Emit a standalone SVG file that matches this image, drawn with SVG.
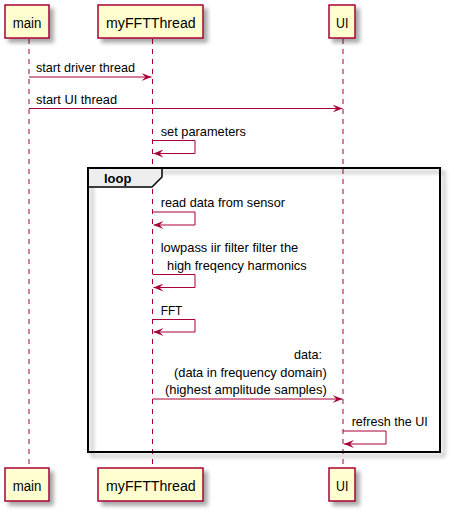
<svg xmlns="http://www.w3.org/2000/svg" width="454" height="515" viewBox="0 0 454 515">
<defs>
<filter id="sh" x="-1" y="-1" width="300%" height="300%">
<feGaussianBlur in="SourceAlpha" stdDeviation="2" result="b"/>
<feOffset in="b" dx="4" dy="4" result="o"/>
<feComponentTransfer in="o" result="s"><feFuncA type="linear" slope="0.35"/></feComponentTransfer>
<feMerge><feMergeNode in="s"/><feMergeNode in="SourceGraphic"/></feMerge>
</filter>
<marker id="ah" viewBox="0 0 10 8" refX="10" refY="4" markerWidth="10" markerHeight="8" markerUnits="userSpaceOnUse" orient="auto">
<polygon points="0,0 10,4 0,8 4,4" fill="#A80036"/>
</marker>
</defs>
<style>
.box{fill:#FEFECE;stroke:#A80036;stroke-width:1.5}
.life{stroke:#A80036;stroke-width:1;stroke-dasharray:5,5;fill:none}
.msg{stroke:#A80036;stroke-width:1;fill:none}
.t{font-family:"Liberation Sans",Arial,sans-serif;font-size:13px;fill:#000}
.p{font-family:"Liberation Sans",Arial,sans-serif;font-size:14px;fill:#000}
.frame{fill:none;stroke:#000;stroke-width:2}
</style>
<g id="lifelines">
<line class="life" x1="29" y1="39" x2="29" y2="468"/>
<line class="life" x1="152.5" y1="39" x2="152.5" y2="468"/>
<line class="life" x1="343" y1="39" x2="343" y2="468"/>
</g>
<g id="loop">
<rect class="frame" x="88" y="168" width="352" height="284" filter="url(#sh)"/>
<polygon points="88,168 162,168 162,177 152,187 88,187" fill="#EEEEEE" stroke="#000" stroke-width="1.5"/>
<rect x="88" y="168" width="352" height="284" fill="none" stroke="#000" stroke-width="2"/>
<text class="t" x="104" y="183" font-weight="bold">loop</text>
</g>
<g id="participant-main-top"><rect class="box" x="5" y="5" width="44" height="33" filter="url(#sh)"/><text class="p" x="12.7" y="27.5" textLength="28.7" lengthAdjust="spacingAndGlyphs">main</text></g>
<g id="participant-fft-top"><rect class="box" x="98" y="5" width="105" height="33" filter="url(#sh)"/><text class="p" x="106" y="27.5" textLength="89.7" lengthAdjust="spacingAndGlyphs">myFFTThread</text></g>
<g id="participant-ui-top"><rect class="box" x="329" y="5" width="26" height="33" filter="url(#sh)"/><text class="p" x="336" y="27.5" textLength="12.3" lengthAdjust="spacingAndGlyphs">UI</text></g>
<g id="participant-main-bottom"><rect class="box" x="5" y="468" width="44" height="33" filter="url(#sh)"/><text class="p" x="12.7" y="490.5" textLength="28.7" lengthAdjust="spacingAndGlyphs">main</text></g>
<g id="participant-fft-bottom"><rect class="box" x="98" y="468" width="105" height="33" filter="url(#sh)"/><text class="p" x="106" y="490.5" textLength="89.7" lengthAdjust="spacingAndGlyphs">myFFTThread</text></g>
<g id="participant-ui-bottom"><rect class="box" x="329" y="468" width="26" height="33" filter="url(#sh)"/><text class="p" x="336" y="490.5" textLength="12.3" lengthAdjust="spacingAndGlyphs">UI</text></g>
<g id="connectors">
<line class="msg" x1="29" y1="77" x2="151.5" y2="77" marker-end="url(#ah)"/>
<text class="t" x="36" y="72" textLength="99" lengthAdjust="spacingAndGlyphs">start driver thread</text>
<line class="msg" x1="29" y1="108.5" x2="342.5" y2="108.5" marker-end="url(#ah)"/>
<text class="t" x="36" y="103.5" textLength="81" lengthAdjust="spacingAndGlyphs">start UI thread</text>
<polyline class="msg" points="152.5,140.5 195,140.5 195,153.5 153.5,153.5" marker-end="url(#ah)"/>
<text class="t" x="160.7" y="135.5" textLength="85.3" lengthAdjust="spacingAndGlyphs">set parameters</text>
<polyline class="msg" points="152.5,212 195,212 195,225 153.5,225" marker-end="url(#ah)"/>
<text class="t" x="160.7" y="207" textLength="124.3" lengthAdjust="spacingAndGlyphs">read data from sensor</text>
<polyline class="msg" points="152.5,274.5 195,274.5 195,287.5 153.5,287.5" marker-end="url(#ah)"/>
<text class="t" x="160.7" y="252" textLength="137.6" lengthAdjust="spacingAndGlyphs">lowpass iir filter filter the</text>
<text class="t" x="167" y="269.5" textLength="139.7" lengthAdjust="spacingAndGlyphs">high freqency harmonics</text>
<polyline class="msg" points="152.5,319.5 195,319.5 195,332 153.5,332" marker-end="url(#ah)"/>
<text class="t" x="160.7" y="314.5" textLength="21.6" lengthAdjust="spacingAndGlyphs">FFT</text>
<line class="msg" x1="152.5" y1="399" x2="342.5" y2="399" marker-end="url(#ah)"/>
<text class="t" x="294" y="359" textLength="28" lengthAdjust="spacingAndGlyphs">data:</text>
<text class="t" x="174" y="376.5" textLength="152.7" lengthAdjust="spacingAndGlyphs">(data in frequency domain)</text>
<text class="t" x="165" y="394" textLength="161.7" lengthAdjust="spacingAndGlyphs">(highest amplitude samples)</text>
<polyline class="msg" points="343,431 386,431 386,444 344,444" marker-end="url(#ah)"/>
<text class="t" x="351.7" y="426" textLength="76" lengthAdjust="spacingAndGlyphs">refresh the UI</text>
</g>
</svg>
